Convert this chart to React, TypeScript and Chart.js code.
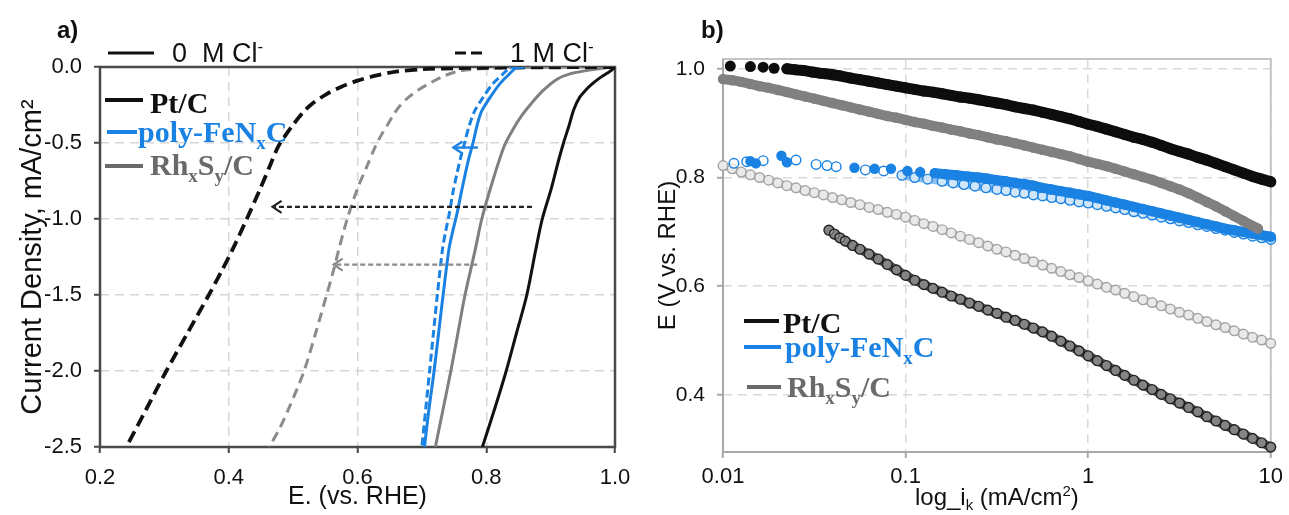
import React, { useEffect, useRef } from 'react';
import { Chart, registerables } from 'chart.js';

Chart.register(...registerables);

// ================= Panel a: E (V vs RHE) vs current density (mA/cm2) =================
const aXTicks = [0.2, 0.4, 0.6, 0.8, 1.0];
const aYTicks = [0, -0.5, -1.0, -1.5, -2.0, -2.5];
const aXTitle = 'E. (vs. RHE)';
const aYTitle = 'Current Density, mA/cm\u00B2';
const aPanelLabel = 'a)';
const clLegend = ['0  M Cl', '1 M Cl'];

// Pt/C, 0 M Cl- (solid black)
const ptC0_E = [1.0, 0.995, 0.988, 0.977, 0.965, 0.955, 0.945, 0.936, 0.929, 0.92, 0.912, 0.901, 0.887, 0.877, 0.863, 0.847, 0.831, 0.813, 0.794];
const ptC0_J = [0, -0.02, -0.04, -0.07, -0.11, -0.15, -0.2, -0.28, -0.38, -0.5, -0.62, -0.8, -1.0, -1.2, -1.5, -1.75, -2.0, -2.25, -2.5];
// Pt/C, 1 M Cl- (dashed black)
const ptC1_E = [1.0, 0.9, 0.8, 0.75, 0.7, 0.66, 0.63, 0.6, 0.575, 0.552, 0.53, 0.515, 0.5, 0.488, 0.476, 0.464, 0.449, 0.428, 0.406, 0.388, 0.369, 0.336, 0.303, 0.272, 0.241];
const ptC1_J = [0, -0.002, -0.005, -0.008, -0.015, -0.03, -0.055, -0.09, -0.13, -0.178, -0.24, -0.3, -0.38, -0.45, -0.53, -0.65, -0.8, -1.0, -1.2, -1.35, -1.5, -1.75, -2.0, -2.25, -2.5];
// RhxSy/C, 0 M Cl- (solid gray)
const rh0_E = [1.0, 0.98, 0.96, 0.93, 0.91, 0.888, 0.87, 0.855, 0.843, 0.828, 0.81, 0.793, 0.783, 0.767, 0.756, 0.745, 0.733, 0.721];
const rh0_J = [0, -0.008, -0.02, -0.045, -0.08, -0.156, -0.24, -0.32, -0.4, -0.52, -0.75, -1.0, -1.2, -1.5, -1.75, -2.0, -2.25, -2.5];
// RhxSy/C, 1 M Cl- (dashed gray)
const rh1_E = [1.0, 0.9, 0.82, 0.78, 0.755, 0.736, 0.715, 0.695, 0.679, 0.665, 0.655, 0.647, 0.638, 0.628, 0.615, 0.6, 0.584, 0.571, 0.562, 0.552, 0.535, 0.517, 0.495, 0.48, 0.463];
const rh1_J = [0, -0.002, -0.006, -0.015, -0.03, -0.056, -0.1, -0.15, -0.2, -0.26, -0.32, -0.378, -0.44, -0.52, -0.65, -0.8, -1.0, -1.2, -1.35, -1.5, -1.75, -2.0, -2.23, -2.37, -2.5];
// poly-FeNxC, 0 M Cl- (solid blue)
const fe0_E = [0.86, 0.847, 0.835, 0.821, 0.806, 0.793, 0.786, 0.78, 0.773, 0.767, 0.761, 0.755, 0.748, 0.742, 0.733, 0.726, 0.719, 0.711, 0.704];
const fe0_J = [0, -0.005, -0.05, -0.111, -0.2, -0.289, -0.38, -0.489, -0.6, -0.711, -0.83, -0.956, -1.08, -1.2, -1.5, -1.75, -2.0, -2.25, -2.5];
// poly-FeNxC, 1 M Cl- (dashed blue)
const fe1_E = [0.85, 0.837, 0.825, 0.81, 0.795, 0.782, 0.774, 0.767, 0.76, 0.754, 0.748, 0.743, 0.737, 0.732, 0.724, 0.718, 0.712, 0.706, 0.7];
const fe1_J = [0, -0.005, -0.05, -0.111, -0.2, -0.289, -0.38, -0.489, -0.6, -0.711, -0.83, -0.956, -1.08, -1.2, -1.5, -1.75, -2.0, -2.25, -2.5];

// shift arrows: [E start, E tip, j]
const arrowBlack = [0.871, 0.468, -0.92];
const arrowGray = [0.786, 0.563, -1.3];
const arrowBlue = [0.787, 0.749, -0.53];

// ================= Panel b: Tafel plots, E vs log ik =================
const bXTicks = [0.01, 0.1, 1, 10];
const bXTickLabels = ['0.01', '0.1', '1', '10'];
const bYTicks = [0.4, 0.6, 0.8, 1.0];
const bYTitle = 'E (V vs. RHE)';
const bPanelLabel = 'b)';

// [log10(ik), E]
const ptC_0M = [[-1.96, 1.005], [-1.85, 1.004], [-1.78, 1.003], [-1.72, 1.001], [-1.65, 1.0], [-1.6, 0.998], [-1.56, 0.997], [-1.51, 0.994], [-1.47, 0.992], [-1.44, 0.991], [-1.4, 0.989], [-1.36, 0.987], [-1.3, 0.983], [-1.25, 0.98], [-1.2, 0.977], [-1.15, 0.974], [-1.1, 0.971], [-1.05, 0.968], [-1.0, 0.965], [-0.95, 0.962], [-0.9, 0.959], [-0.85, 0.957], [-0.8, 0.954], [-0.75, 0.951], [-0.7, 0.948], [-0.65, 0.946], [-0.6, 0.943], [-0.55, 0.94], [-0.5, 0.937], [-0.45, 0.934], [-0.4, 0.93], [-0.35, 0.927], [-0.3, 0.924], [-0.25, 0.92], [-0.2, 0.916], [-0.15, 0.912], [-0.1, 0.908], [-0.05, 0.903], [0.0, 0.898], [0.05, 0.894], [0.1, 0.889], [0.15, 0.884], [0.2, 0.879], [0.25, 0.874], [0.3, 0.87], [0.35, 0.865], [0.4, 0.859], [0.45, 0.853], [0.5, 0.848], [0.55, 0.843], [0.6, 0.837], [0.65, 0.832], [0.7, 0.826], [0.75, 0.82], [0.8, 0.814], [0.85, 0.808], [0.9, 0.802], [0.95, 0.797], [1.0, 0.792]];
const rh_0M = [[-2.0, 0.981], [-1.95, 0.979], [-1.9, 0.976], [-1.85, 0.972], [-1.8, 0.968], [-1.75, 0.965], [-1.7, 0.961], [-1.65, 0.957], [-1.6, 0.953], [-1.55, 0.949], [-1.5, 0.945], [-1.45, 0.941], [-1.4, 0.937], [-1.35, 0.933], [-1.3, 0.929], [-1.25, 0.925], [-1.2, 0.921], [-1.15, 0.917], [-1.1, 0.913], [-1.05, 0.91], [-1.0, 0.906], [-0.95, 0.902], [-0.9, 0.899], [-0.85, 0.895], [-0.8, 0.892], [-0.75, 0.888], [-0.7, 0.885], [-0.65, 0.881], [-0.6, 0.878], [-0.55, 0.874], [-0.5, 0.87], [-0.45, 0.867], [-0.4, 0.863], [-0.35, 0.859], [-0.3, 0.855], [-0.25, 0.851], [-0.2, 0.847], [-0.15, 0.843], [-0.1, 0.839], [-0.05, 0.834], [0.0, 0.829], [0.05, 0.825], [0.1, 0.821], [0.15, 0.816], [0.2, 0.811], [0.25, 0.806], [0.3, 0.801], [0.35, 0.796], [0.4, 0.79], [0.45, 0.784], [0.5, 0.778], [0.55, 0.771], [0.6, 0.763], [0.65, 0.755], [0.7, 0.747], [0.75, 0.738], [0.8, 0.729], [0.85, 0.72], [0.9, 0.711], [0.93, 0.706]];
const fe_0M = [[-1.85, 0.83], [-1.82, 0.826], [-1.68, 0.84], [-1.65, 0.828], [-1.28, 0.818], [-1.17, 0.816], [-1.08, 0.816], [-0.99, 0.812], [-0.92, 0.81], [-0.84, 0.808], [-0.78, 0.806], [-0.72, 0.804], [-0.66, 0.802], [-0.6, 0.8], [-0.55, 0.798], [-0.5, 0.795], [-0.45, 0.793], [-0.4, 0.79], [-0.35, 0.788], [-0.3, 0.785], [-0.25, 0.781], [-0.2, 0.778], [-0.15, 0.775], [-0.1, 0.772], [-0.05, 0.769], [0.0, 0.766], [0.05, 0.762], [0.1, 0.758], [0.15, 0.754], [0.2, 0.75], [0.25, 0.746], [0.3, 0.742], [0.35, 0.738], [0.4, 0.734], [0.45, 0.73], [0.5, 0.726], [0.55, 0.722], [0.6, 0.718], [0.65, 0.714], [0.7, 0.71], [0.75, 0.706], [0.8, 0.703], [0.85, 0.7], [0.9, 0.697], [0.95, 0.694], [1.0, 0.691]];
const fe_1M = [[-1.94, 0.826], [-1.87, 0.829], [-1.78, 0.831], [-1.6, 0.832], [-1.49, 0.824], [-1.43, 0.822], [-1.38, 0.82], [-1.22, 0.814], [-1.12, 0.812], [-1.02, 0.804], [-0.95, 0.8], [-0.88, 0.797], [-0.8, 0.793], [-0.74, 0.79], [-0.68, 0.787], [-0.62, 0.784], [-0.56, 0.781], [-0.5, 0.778], [-0.45, 0.776], [-0.4, 0.773], [-0.35, 0.771], [-0.3, 0.768], [-0.25, 0.766], [-0.2, 0.763], [-0.15, 0.761], [-0.1, 0.758], [-0.05, 0.755], [0.0, 0.753], [0.05, 0.75], [0.1, 0.747], [0.15, 0.744], [0.2, 0.741], [0.25, 0.737], [0.3, 0.734], [0.35, 0.731], [0.4, 0.727], [0.45, 0.724], [0.5, 0.72], [0.55, 0.717], [0.6, 0.713], [0.65, 0.71], [0.7, 0.706], [0.75, 0.703], [0.8, 0.699], [0.85, 0.696], [0.9, 0.692], [0.95, 0.689], [1.0, 0.686]];
const rh_1M = [[-2.0, 0.822], [-1.95, 0.816], [-1.9, 0.81], [-1.85, 0.805], [-1.8, 0.8], [-1.75, 0.795], [-1.7, 0.79], [-1.65, 0.785], [-1.6, 0.781], [-1.55, 0.776], [-1.5, 0.772], [-1.45, 0.768], [-1.4, 0.763], [-1.35, 0.759], [-1.3, 0.754], [-1.25, 0.75], [-1.2, 0.745], [-1.15, 0.741], [-1.1, 0.736], [-1.05, 0.732], [-1.0, 0.727], [-0.95, 0.721], [-0.9, 0.715], [-0.85, 0.71], [-0.8, 0.704], [-0.75, 0.698], [-0.7, 0.692], [-0.65, 0.686], [-0.6, 0.68], [-0.55, 0.674], [-0.5, 0.668], [-0.45, 0.663], [-0.4, 0.657], [-0.35, 0.651], [-0.3, 0.645], [-0.25, 0.639], [-0.2, 0.633], [-0.15, 0.627], [-0.1, 0.621], [-0.05, 0.616], [0.0, 0.61], [0.05, 0.604], [0.1, 0.598], [0.15, 0.593], [0.2, 0.587], [0.25, 0.581], [0.3, 0.575], [0.35, 0.57], [0.4, 0.564], [0.45, 0.558], [0.5, 0.552], [0.55, 0.547], [0.6, 0.541], [0.65, 0.535], [0.7, 0.529], [0.75, 0.524], [0.8, 0.518], [0.85, 0.512], [0.9, 0.506], [0.95, 0.501], [1.0, 0.495]];
const ptC_1M = [[-1.42, 0.703], [-1.39, 0.696], [-1.36, 0.689], [-1.33, 0.683], [-1.29, 0.675], [-1.25, 0.668], [-1.2, 0.659], [-1.15, 0.65], [-1.1, 0.64], [-1.05, 0.63], [-1.0, 0.62], [-0.95, 0.611], [-0.9, 0.603], [-0.85, 0.596], [-0.8, 0.589], [-0.75, 0.582], [-0.7, 0.576], [-0.65, 0.569], [-0.6, 0.563], [-0.55, 0.556], [-0.5, 0.55], [-0.45, 0.543], [-0.4, 0.537], [-0.35, 0.53], [-0.3, 0.523], [-0.25, 0.516], [-0.2, 0.508], [-0.15, 0.499], [-0.1, 0.49], [-0.05, 0.481], [0.0, 0.472], [0.05, 0.463], [0.1, 0.454], [0.15, 0.445], [0.2, 0.436], [0.25, 0.427], [0.3, 0.418], [0.35, 0.41], [0.4, 0.401], [0.45, 0.393], [0.5, 0.385], [0.55, 0.377], [0.6, 0.369], [0.65, 0.36], [0.7, 0.352], [0.75, 0.344], [0.8, 0.336], [0.85, 0.328], [0.9, 0.32], [0.95, 0.312], [1.0, 0.304]];

// index where each series' markers become dense enough to merge into a band
const ptC_0M_denseFrom = 4;
const fe_0M_denseFrom = 9;
const fe_1M_denseFrom = 9;

// legend entries (shared by both panels)
const legendParts: [string, number][][] = [
  [['Pt/C', 0]],
  [['poly-FeN', 0], ['x', 1], ['C', 0]],
  [['Rh', 0], ['x', 1], ['S', 0], ['y', 1], ['/C', 0]],
];
const bXTitleParts: [string, number][] = [['log_i', 0], ['k', 1], [' (mA/cm', 0], ['2', -1], [')', 0]];

const BLACK = '#111111';
const BLUE = '#1a82e2';
const GRAY = '#7f7f7f';
const LEG_COLORS = [BLACK, BLUE, '#6a6a6a'];
const SANS = '"Liberation Sans", Arial, sans-serif';
const SERIF = '"Liberation Serif", "Times New Roman", serif';

function drawRich(ctx: any, x: number, y: number, parts: [string, number][], size: number, family: string, weight: string, color: string, align = 'left') {
  ctx.save();
  ctx.fillStyle = color;
  ctx.textBaseline = 'alphabetic';
  ctx.textAlign = 'left';
  const fontFor = (k: number) => `${weight} ${k === 0 ? size : Math.round(size * 0.62)}px ${family}`;
  let total = 0;
  for (const [t, k] of parts) { ctx.font = fontFor(k); total += ctx.measureText(t).width; }
  let cx = align === 'center' ? x - total / 2 : align === 'right' ? x - total : x;
  for (const [t, k] of parts) {
    ctx.font = fontFor(k);
    const dy = k === 1 ? size * 0.22 : k === -1 ? -size * 0.38 : 0;
    ctx.fillText(t, cx, y + dy);
    cx += ctx.measureText(t).width;
  }
  ctx.restore();
}

function seg(ctx: any, x0: number, y0: number, x1: number, y1: number, color: string, w: number, dash: number[] = []) {
  ctx.save();
  ctx.strokeStyle = color; ctx.lineWidth = w; ctx.setLineDash(dash);
  ctx.beginPath(); ctx.moveTo(x0, y0); ctx.lineTo(x1, y1); ctx.stroke();
  ctx.restore();
}

function drawArrow(chart: any, a: number[], color: string, dash: number[], w: number) {
  const { ctx, scales } = chart;
  const x0 = scales.x.getPixelForValue(a[0]);
  const x1 = scales.x.getPixelForValue(a[1]);
  const y = scales.y.getPixelForValue(a[2]);
  seg(ctx, x0, y, x1 + 2, y, color, w, dash);
  ctx.save();
  ctx.strokeStyle = color; ctx.lineWidth = w; ctx.setLineDash([]);
  ctx.beginPath(); ctx.moveTo(x1 + 9, y - 6); ctx.lineTo(x1, y); ctx.lineTo(x1 + 9, y + 6); ctx.stroke();
  ctx.restore();
}

function drawLegend(ctx: any, rows: { ly: number; l0: number; l1: number; tx: number; ty: number }[]) {
  rows.forEach((r, i) => {
    seg(ctx, r.l0, r.ly, r.l1, r.ly, LEG_COLORS[i], 4);
    drawRich(ctx, r.tx, r.ty, legendParts[i], 30, SERIF, 'bold', LEG_COLORS[i]);
  });
}

function lineSet(label: string, E: number[], J: number[], color: string, dash: number[], width: number) {
  return {
    label,
    data: E.map((e, i) => ({ x: e, y: J[i] })),
    showLine: true,
    borderColor: color,
    borderWidth: width,
    borderDash: dash,
    pointRadius: 0,
    tension: 0.3,
    fill: false,
  };
}

const toXY = (pts: number[][]) => pts.map(([l, e]) => ({ x: Math.pow(10, l), y: e }));

// continuous band under the dense part of a marker series
function bandSet(label: string, pts: number[][], color: string, width: number, order: number) {
  return {
    label: label + ' band',
    data: toXY(pts),
    showLine: true,
    borderColor: color,
    borderWidth: width,
    borderCapStyle: 'round',
    borderJoinStyle: 'round',
    pointRadius: 0,
    clip: false,
    order,
  };
}

function markerSet(label: string, pts: number[][], fillC: string, edge: string, edgeW: number, r: number, order: number) {
  return {
    label,
    data: toXY(pts),
    showLine: false,
    pointRadius: r,
    pointBackgroundColor: fillC,
    pointBorderColor: edge,
    pointBorderWidth: edgeW,
    clip: false,
    order,
  };
}

const tickFont = { family: SANS, size: 22 };

export default function App() {
  const refA = useRef<HTMLCanvasElement>(null);
  const refB = useRef<HTMLCanvasElement>(null);

  useEffect(() => {
    const panelA = {
      id: 'panelA',
      beforeDatasetsDraw(chart: any) {
        const { ctx, chartArea: { left, right, top, bottom } } = chart;
        ctx.save(); ctx.strokeStyle = '#4a4a4a'; ctx.lineWidth = 2.5;
        ctx.strokeRect(left, top, right - left, bottom - top); ctx.restore();
        drawLegend(ctx, [
          { ly: 100, l0: 105, l1: 143, tx: 150, ty: 113 },
          { ly: 132, l0: 107, l1: 137, tx: 138, ty: 142 },
          { ly: 166, l0: 105, l1: 143, tx: 150, ty: 175 },
        ]);
      },
      afterDatasetsDraw(chart: any) {
        drawArrow(chart, arrowBlack, '#222222', [5, 3], 2.2);
        drawArrow(chart, arrowGray, '#8a8a8a', [5, 3], 2.2);
        drawArrow(chart, arrowBlue, BLUE, [], 2.4);
      },
      afterDraw(chart: any) {
        const ctx = chart.ctx;
        drawRich(ctx, 57, 38, [[aPanelLabel, 0]], 24, SANS, 'bold', BLACK);
        seg(ctx, 108, 53, 154, 53, BLACK, 3);
        seg(ctx, 455, 53, 466, 53, BLACK, 3);
        seg(ctx, 471, 53, 482, 53, BLACK, 3);
        drawRich(ctx, 172, 62, [[clLegend[0], 0], ['-', -1]], 27, SANS, 'normal', BLACK);
        drawRich(ctx, 510, 62, [[clLegend[1], 0], ['-', -1]], 27, SANS, 'normal', BLACK);
      },
    };

    const chartA = new Chart(refA.current as any, {
      type: 'scatter',
      data: {
        datasets: [
          lineSet('poly-FeNxC 0 M', fe0_E, fe0_J, BLUE, [], 3),
          lineSet('poly-FeNxC 1 M', fe1_E, fe1_J, BLUE, [8, 4], 3),
          lineSet('Pt/C 0 M', ptC0_E, ptC0_J, BLACK, [], 3),
          lineSet('Pt/C 1 M', ptC1_E, ptC1_J, BLACK, [12, 6], 3.8),
          lineSet('RhxSy/C 0 M', rh0_E, rh0_J, GRAY, [], 3),
          lineSet('RhxSy/C 1 M', rh1_E, rh1_J, '#8c8c8c', [10, 6], 3),
        ] as any,
      },
      options: {
        animation: false,
        responsive: false,
        devicePixelRatio: 1,
        layout: { padding: { top: 67, right: 30, bottom: 0, left: 0 } },
        plugins: { legend: { display: false }, tooltip: { enabled: false } },
        scales: {
          x: {
            type: 'linear', min: 0.2, max: 1.0,
            afterBuildTicks: (s: any) => { s.ticks = aXTicks.map((v) => ({ value: v })); },
            afterFit: (s: any) => { s.height = 68; },
            ticks: { callback: (v: any) => Number(v).toFixed(1), font: tickFont, color: BLACK, padding: 12, maxRotation: 0, autoSkip: false },
            grid: { color: '#d6d6d6', lineWidth: 1.5, tickLength: 6, tickColor: '#444444', tickWidth: 2 },
            border: { display: false, dash: [9, 6] },
            title: { display: true, text: aXTitle, font: { family: SANS, size: 25 }, color: BLACK, padding: { top: 3, bottom: 3 } },
          },
          y: {
            type: 'linear', min: -2.5, max: 0,
            afterBuildTicks: (s: any) => { s.ticks = aYTicks.map((v) => ({ value: v })); },
            afterFit: (s: any) => { s.width = 100; },
            ticks: { callback: (v: any) => Number(v).toFixed(1), font: tickFont, color: BLACK, padding: 12, autoSkip: false },
            grid: { color: '#d6d6d6', lineWidth: 1.5, tickLength: 6, tickColor: '#444444', tickWidth: 2 },
            border: { display: false, dash: [9, 6] },
            title: { display: true, text: aYTitle, font: { family: SANS, size: 29 }, color: BLACK, padding: { top: 16, bottom: 16 } },
          },
        },
      } as any,
      plugins: [panelA],
    });

    const panelB = {
      id: 'panelB',
      beforeDatasetsDraw(chart: any) {
        const { ctx, chartArea: { left, right, top, bottom } } = chart;
        ctx.save();
        ctx.strokeStyle = '#c4c4c4'; ctx.lineWidth = 2;
        ctx.strokeRect(left, top, right - left, bottom - top);
        ctx.restore();
        seg(ctx, left, top, left, bottom + 1, '#a8a8a8', 2);
        seg(ctx, left - 1, bottom, right, bottom, '#a8a8a8', 2);
        drawLegend(ctx, [
          { ly: 321, l0: 99, l1: 134, tx: 138, ty: 333 },
          { ly: 347, l0: 99, l1: 136, tx: 140, ty: 357 },
          { ly: 387, l0: 102, l1: 136, tx: 142, ty: 397 },
        ]);
      },
      afterDraw(chart: any) {
        const ctx = chart.ctx;
        const { left, right } = chart.chartArea;
        drawRich(ctx, 56, 38, [[bPanelLabel, 0]], 24, SANS, 'bold', BLACK);
        drawRich(ctx, (left + right) / 2, 505, bXTitleParts, 24, SANS, 'normal', BLACK, 'center');
      },
    };

    const chartB = new Chart(refB.current as any, {
      type: 'scatter',
      data: {
        datasets: [
          // RhxSy/C 1 M (light gray open)
          bandSet('RhxSy/C 1 M', rh_1M, '#cfcfcf', 8, 12),
          markerSet('RhxSy/C 1 M', rh_1M, 'rgba(255,255,255,0.55)', '#a3a3a3', 1.4, 4.8, 11),
          // Pt/C 1 M (dark open)
          bandSet('Pt/C 1 M', ptC_1M, '#555555', 9, 10),
          markerSet('Pt/C 1 M', ptC_1M, 'rgba(255,255,255,0.28)', '#202020', 1.4, 4.9, 9),
          // poly-FeNxC 1 M (blue open)
          bandSet('poly-FeNxC 1 M', fe_1M.slice(fe_1M_denseFrom), 'rgba(26,130,226,0.5)', 8, 8),
          markerSet('poly-FeNxC 1 M', fe_1M, 'rgba(255,255,255,0.6)', BLUE, 1.4, 4.8, 7),
          // poly-FeNxC 0 M (blue filled)
          bandSet('poly-FeNxC 0 M', fe_0M.slice(fe_0M_denseFrom), BLUE, 10, 6),
          markerSet('poly-FeNxC 0 M', fe_0M, BLUE, BLUE, 0, 5.2, 5),
          // RhxSy/C 0 M (gray filled)
          bandSet('RhxSy/C 0 M', rh_0M, '#808080', 10, 4),
          markerSet('RhxSy/C 0 M', rh_0M, '#808080', '#808080', 0, 5.2, 3),
          // Pt/C 0 M (black filled)
          bandSet('Pt/C 0 M', ptC_0M.slice(ptC_0M_denseFrom), '#0d0d0d', 11, 2),
          markerSet('Pt/C 0 M', ptC_0M, '#0d0d0d', '#0d0d0d', 0, 5.5, 1),
        ] as any,
      },
      options: {
        animation: false,
        responsive: false,
        devicePixelRatio: 1,
        layout: { padding: { top: 59, right: 14, bottom: 0, left: 0 } },
        plugins: { legend: { display: false }, tooltip: { enabled: false } },
        scales: {
          x: {
            type: 'logarithmic', min: 0.01, max: 10,
            afterBuildTicks: (s: any) => { s.ticks = bXTicks.map((v) => ({ value: v })); },
            afterFit: (s: any) => { s.height = 63; },
            ticks: { callback: (_v: any, i: number) => bXTickLabels[i], font: tickFont, color: BLACK, padding: 6, maxRotation: 0, autoSkip: false },
            grid: { color: '#d9d9d9', lineWidth: 1.5, tickLength: 6, tickColor: '#a8a8a8', tickWidth: 2 },
            border: { display: false, dash: [9, 6] },
          },
          y: {
            type: 'linear', min: 0.295, max: 1.018,
            afterBuildTicks: (s: any) => { s.ticks = bYTicks.map((v) => ({ value: v })); },
            afterFit: (s: any) => { s.width = 78; },
            ticks: { callback: (v: any) => Number(v).toFixed(1), font: { family: SANS, size: 21 }, color: BLACK, padding: 12, autoSkip: false },
            grid: { color: '#d9d9d9', lineWidth: 1.5, tickLength: 6, tickColor: '#a8a8a8', tickWidth: 2 },
            border: { display: false, dash: [9, 6] },
            title: { display: true, text: bYTitle, font: { family: SANS, size: 24 }, color: BLACK, padding: { top: 9, bottom: 9 } },
          },
        },
      } as any,
      plugins: [panelB],
    });

    return () => { chartA.destroy(); chartB.destroy(); };
  }, []);

  return (
    <div style={{ position: 'fixed', left: 0, top: 0, width: 1289, height: 515, background: '#ffffff' }}>
      <canvas ref={refA} width={645} height={515} style={{ position: 'absolute', left: 0, top: 0 }} />
      <canvas ref={refB} width={644} height={515} style={{ position: 'absolute', left: 645, top: 0 }} />
    </div>
  );
}
